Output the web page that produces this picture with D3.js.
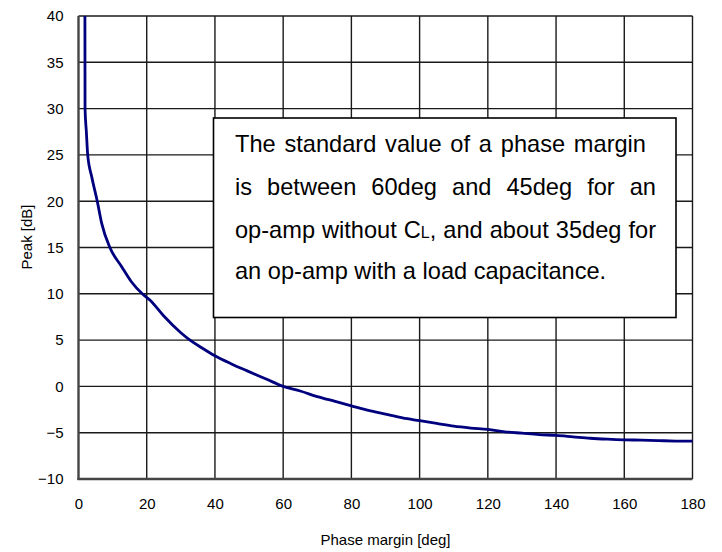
<!DOCTYPE html>
<html>
<head>
<meta charset="utf-8">
<script src="https://cdn.jsdelivr.net/npm/d3@7/dist/d3.min.js"></script>
<style>
  html, body { margin: 0; padding: 0; background: #fff; }
  svg { display: block; }
  .tick text { font-family: "Liberation Sans", Arial, sans-serif; font-size: 15px; fill: #000; }
</style>
</head>
<body>
<svg id="chart" width="722" height="552"></svg>
<script>
// Phase margin [deg] and the closed-loop gain peak [dB] it produces
const phaseMargin = [1.88, 1.92, 2.3, 2.7, 3.9, 5.5, 6.8, 9.2, 12.7, 15.5, 18.7, 21, 25, 30, 32.7, 36, 40, 45, 49.3, 55, 60,
  65, 70, 75, 80, 85, 90, 95, 100, 105, 110, 115, 120, 125, 130, 135, 140, 145, 150, 155, 160, 165, 170, 175, 180];
const peakDb = [40, 30, 27.5, 25, 22.6, 20, 17.6, 15, 12.9, 11.3, 10, 9.3, 7.6, 5.8, 5, 4.2, 3.3, 2.4, 1.7, 0.8, 0,
  -0.5, -1.1, -1.6, -2.1, -2.6, -3.0, -3.4, -3.7, -4.0, -4.3, -4.5, -4.65, -4.9, -5.05, -5.2, -5.3, -5.45, -5.6, -5.7, -5.77, -5.8, -5.85, -5.9, -5.92];

const xTicks = [0, 20, 40, 60, 80, 100, 120, 140, 160, 180];
const yTicks = [-10, -5, 0, 5, 10, 15, 20, 25, 30, 35, 40];

// note text, one entry per line; runs with small:true are drawn as subscripts
const noteLines = [
  { runs: [{ t: "The standard value of a phase margin" }], right: 646 },
  { runs: [{ t: "is between 60deg and 45deg for an" }], right: 656 },
  { runs: [{ t: "op-amp without C" }, { t: "L", small: true }, { t: ", and about 35deg for" }], right: 656 },
  { runs: [{ t: "an op-amp with a load capacitance." }], right: null }
];

const svg = d3.select("#chart");
const plotLeft = 78.5, plotRight = 692.5, plotTop = 16, plotBottom = 479;

const x = d3.scaleLinear().domain([0, 180]).range([plotLeft, plotRight]);
const y = d3.scaleLinear().domain([-10, 40]).range([plotBottom, plotTop]);

// grid lines
const grid = svg.append("g");
grid.selectAll("line.v").data(xTicks.slice(1, -1)).join("line")
  .attr("class", "v")
  .attr("x1", d => x(d)).attr("x2", d => x(d))
  .attr("y1", plotTop).attr("y2", plotBottom)
  .attr("stroke", "#1a1a1a").attr("stroke-width", 1.4);
grid.selectAll("line.h").data(yTicks.slice(1, -1)).join("line")
  .attr("class", "h")
  .attr("x1", plotLeft).attr("x2", plotRight)
  .attr("y1", d => y(d)).attr("y2", d => y(d))
  .attr("stroke", "#1a1a1a").attr("stroke-width", 1.4);

// frame
svg.append("line").attr("x1", plotLeft).attr("x2", plotRight).attr("y1", plotTop).attr("y2", plotTop)
  .attr("stroke", "#1a1a1a").attr("stroke-width", 1.4);
svg.append("line").attr("x1", plotRight).attr("x2", plotRight).attr("y1", plotTop).attr("y2", plotBottom)
  .attr("stroke", "#1a1a1a").attr("stroke-width", 1.4);

// axes (labels only, the frame carries the lines)
const xAxis = svg.append("g").attr("transform", `translate(0,${plotBottom})`)
  .call(d3.axisBottom(x).tickValues(xTicks).tickSize(0).tickPadding(19));
const yAxis = svg.append("g").attr("transform", `translate(${plotLeft},0)`)
  .call(d3.axisLeft(y).tickValues(yTicks).tickSize(0).tickPadding(15));
[xAxis, yAxis].forEach(g => g.select(".domain").remove());

svg.append("line").attr("x1", plotLeft).attr("x2", plotLeft).attr("y1", plotTop).attr("y2", plotBottom + 1)
  .attr("stroke", "#444").attr("stroke-width", 2.4);
svg.append("line").attr("x1", plotLeft - 1).attr("x2", plotRight).attr("y1", plotBottom).attr("y2", plotBottom)
  .attr("stroke", "#444").attr("stroke-width", 2.4);

// curve
const line = d3.line().curve(d3.curveMonotoneX).x(d => x(d[0])).y(d => y(d[1]));
svg.append("path")
  .datum(d3.zip(phaseMargin, peakDb))
  .attr("d", line)
  .attr("fill", "none")
  .attr("stroke", "#00007f")
  .attr("stroke-width", 2.8)
  .attr("stroke-linejoin", "round");

// axis titles
svg.append("text")
  .attr("x", (plotLeft + plotRight) / 2).attr("y", 545)
  .attr("text-anchor", "middle")
  .attr("font-family", "Liberation Sans, Arial, sans-serif").attr("font-size", 15)
  .text("Phase margin [deg]");
svg.append("text")
  .attr("transform", "translate(31.5,237) rotate(-90)")
  .attr("text-anchor", "middle")
  .attr("font-family", "Liberation Sans, Arial, sans-serif").attr("font-size", 15)
  .text("Peak [dB]");

// annotation box
const box = { x0: 213.5, y0: 118, x1: 676, y1: 317.5 };
svg.append("rect")
  .attr("x", box.x0).attr("y", box.y0)
  .attr("width", box.x1 - box.x0).attr("height", box.y1 - box.y0)
  .attr("fill", "#fff").attr("stroke", "#000").attr("stroke-width", 1.6);

const textLeft = 235, fontSize = 23.6, smallSize = 16;
const baselines = [152, 195, 237.5, 279];
const noteFont = "Liberation Sans, Arial, sans-serif";

noteLines.forEach((ln, i) => {
  const t = svg.append("text").attr("x", textLeft).attr("y", baselines[i])
    .attr("font-family", noteFont).attr("font-size", fontSize);
  ln.runs.forEach(r => {
    const s = t.append("tspan").text(r.t);
    if (r.small) s.attr("font-size", smallSize);
  });
  if (ln.right !== null) {
    // justify: spread the spare width over the gaps between words
    const natural = t.node().getComputedTextLength();
    const gaps = ln.runs.map(r => r.t).join("").split(" ").length - 1;
    t.attr("word-spacing", (ln.right - textLeft - natural) / gaps);
  }
});
</script>
</body>
</html>
